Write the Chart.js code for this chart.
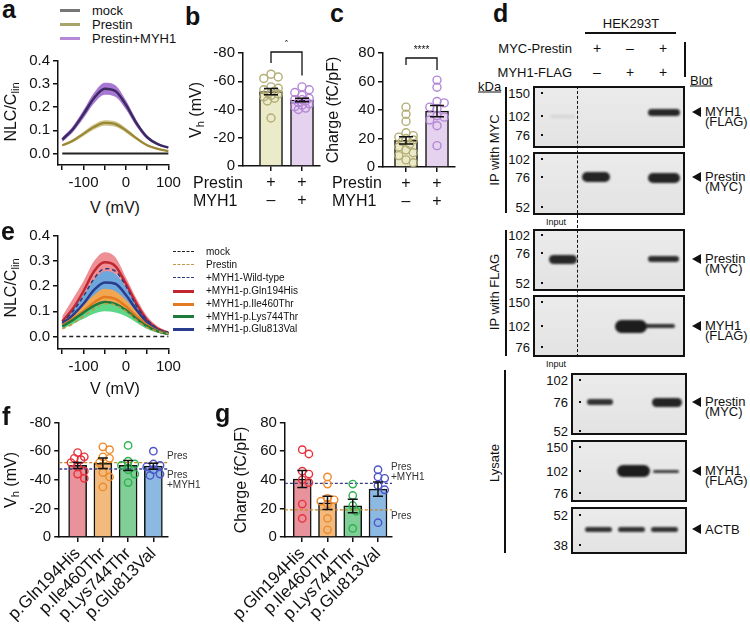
<!DOCTYPE html>
<html>
<head>
<meta charset="utf-8">
<title>MYH1 and prestin NLC</title>
<script src="https://cdn.jsdelivr.net/npm/chart.js"></script>
<style>
  body { margin: 0; background: #fff; font-family: "Liberation Sans", Arial, sans-serif; color: #111; }
  #page { position: relative; width: 750px; height: 625px; overflow: hidden; }
  canvas { position: absolute; }
  .t { position: absolute; white-space: nowrap; line-height: 1; }
  .t sub { font-size: 70%; vertical-align: -0.25em; line-height: 0; }
  .r { position: absolute; box-sizing: border-box; }
</style>
</head>
<body>
<div id="page"></div>
<script>
// ---------- data ----------
var voltage = [-150, -125, -100, -75, -50, -25, 0, 25, 50, 75, 100];

// panel a
var nlcMock = [0, 0, 0, 0, 0, 0, 0, 0, 0, 0, 0];
var nlcPrestin = [0.035, 0.055, 0.085, 0.115, 0.132, 0.127, 0.10, 0.065, 0.035, 0.02, 0.01];
var nlcPrestinSem = [0.005, 0.007, 0.009, 0.011, 0.012, 0.012, 0.010, 0.007, 0.005, 0.003, 0.002];
var nlcMyh1 = [0.06, 0.105, 0.17, 0.24, 0.28, 0.27, 0.21, 0.13, 0.07, 0.04, 0.025];
var nlcMyh1Sem = [0.010, 0.013, 0.018, 0.023, 0.026, 0.025, 0.020, 0.014, 0.008, 0.005, 0.003];

// panel e
var eWildType = [0.055, 0.10, 0.16, 0.23, 0.27, 0.26, 0.20, 0.12, 0.065, 0.03, 0.015];
var ePrestin = [0.03, 0.05, 0.08, 0.11, 0.13, 0.125, 0.10, 0.065, 0.035, 0.02, 0.01];
var eGln194His = [0.06, 0.11, 0.18, 0.26, 0.295, 0.28, 0.21, 0.13, 0.065, 0.03, 0.015];
var eGln194HisLow = [0.04, 0.08, 0.15, 0.22, 0.255, 0.25, 0.19, 0.115, 0.055, 0.025, 0.01];
var eGln194HisHigh = [0.08, 0.15, 0.22, 0.30, 0.335, 0.315, 0.235, 0.15, 0.08, 0.04, 0.02];
var eGlu813Val = [0.05, 0.085, 0.13, 0.185, 0.215, 0.21, 0.165, 0.105, 0.055, 0.025, 0.012];
var eGlu813ValLow = [0.035, 0.065, 0.10, 0.15, 0.175, 0.17, 0.135, 0.085, 0.045, 0.02, 0.008];
var eGlu813ValHigh = [0.065, 0.11, 0.165, 0.225, 0.26, 0.25, 0.195, 0.125, 0.07, 0.032, 0.016];
var eIle460Thr = [0.045, 0.07, 0.10, 0.135, 0.157, 0.15, 0.12, 0.08, 0.045, 0.022, 0.01];
var eIle460ThrLow = [0.03, 0.05, 0.075, 0.105, 0.125, 0.12, 0.095, 0.062, 0.035, 0.017, 0.007];
var eIle460ThrHigh = [0.06, 0.09, 0.125, 0.165, 0.19, 0.18, 0.145, 0.098, 0.056, 0.028, 0.013];
var eLys744Thr = [0.04, 0.065, 0.095, 0.122, 0.137, 0.13, 0.105, 0.07, 0.04, 0.02, 0.01];
var eLys744ThrLow = [0.03, 0.05, 0.07, 0.09, 0.10, 0.095, 0.08, 0.055, 0.03, 0.015, 0.007];
var eLys744ThrHigh = [0.045, 0.07, 0.10, 0.125, 0.14, 0.133, 0.108, 0.072, 0.042, 0.021, 0.01];

// panels b and c
var vhPrestinCells = [-65, -63, -62, -56, -55, -54, -53, -52, -51, -50, -49, -48, -46, -34];
var vhMyh1Cells = [-56, -54, -52, -50, -48, -47, -47, -46, -45, -44, -43, -42, -41, -40];
var vhMean = [-52.6, -46.7];
var vhSem = [2.2, 1.3];
var chargePrestinCells = [42, 37, 32, 24, 22, 21, 20, 19, 18, 16, 14, 12, 10, 8, 5, 3];
var chargeMyh1Cells = [61, 56, 46, 45, 42, 41, 36, 35, 33, 29, 15];
var chargeMean = [18.7, 39.2];
var chargeSem = [2.6, 4];

// panels f and g
var variantNames = ['p.Gln194His', 'p.Ile460Thr', 'p.Lys744Thr', 'p.Glu813Val'];
var vhVariantCells = [
  [-59, -56, -55, -54, -52, -49, -46, -44, -41],
  [-63, -61, -56, -55, -52, -45, -42, -35],
  [-64, -53, -51, -50, -47, -44, -38],
  [-60, -51, -50, -49, -47, -44, -43]
];
var vhVariantMean = [-50, -51.5, -50, -49.5];
var vhVariantSem = [2.1, 3.7, 3.5, 2.1];
var chargeVariantCells = [
  [61, 58, 46, 44, 40, 38, 23, 13],
  [42, 37, 27, 26, 25, 23, 13, 5],
  [37, 29, 22, 18, 6],
  [47, 42, 41, 36, 33, 10]
];
var chargeVariantMean = [40.5, 23.8, 21.7, 33.5];
var chargeVariantSem = [6, 4.6, 4.7, 5];
var vhRefPres = -52, vhRefPresMyh1 = -47.5;
var chargeRefPres = 19, chargeRefPresMyh1 = 37.5;

// ---------- helpers ----------
var INK = '#111';
var page = document.getElementById('page');
Chart.defaults.font.family = "'Liberation Sans', Arial, sans-serif";
Chart.defaults.color = INK;

function put(html, x, y, o) {
  o = o || {};
  var d = document.createElement('div');
  d.className = 't';
  d.innerHTML = html;
  d.style.left = x + 'px';
  d.style.top = y + 'px';
  d.style.fontSize = (o.size || 13) + 'px';
  if (o.bold) d.style.fontWeight = 'bold';
  if (o.color) d.style.color = o.color;
  if (o.underline) d.style.textDecoration = 'underline';
  d.style.transform = {
    l: 'translate(0,-50%)', r: 'translate(-100%,-50%)', c: 'translate(-50%,-50%)',
    v: 'translate(-50%,-50%) rotate(-90deg)'
  }[o.anchor || 'l'];
  page.appendChild(d);
  return d;
}
function rect(x, y, w, h, css) {
  var d = document.createElement('div');
  d.className = 'r';
  d.style.cssText = 'left:' + x + 'px;top:' + y + 'px;width:' + w + 'px;height:' + h + 'px;' + (css || '');
  page.appendChild(d);
  return d;
}
function makeCanvas(x, y, w, h) {
  var c = document.createElement('canvas');
  c.width = w; c.height = h;
  c.style.left = x + 'px'; c.style.top = y + 'px';
  c.style.width = w + 'px'; c.style.height = h + 'px';
  page.appendChild(c);
  return c.getContext('2d');
}
function axis(o) {
  var ticks = {color: INK, font: {size: o.font || 15, lineHeight: 1.15}, padding: o.pad, autoSkip: false,
               maxRotation: o.rot || 0, minRotation: o.rot || 0};
  if (o.label) ticks.callback = o.label;
  return {
    type: 'linear', min: o.min, max: o.max, reverse: !!o.reverse, offset: false,
    border: {color: INK, width: 1.5},
    grid: {drawOnChartArea: false, color: INK, lineWidth: 1.5, tickLength: 5, offset: false},
    ticks: ticks,
    afterBuildTicks: function (s) { s.ticks = o.ticks.map(function (v) { return {value: v}; }); },
    afterFit: function (s) { if (o.width) s.width = o.width; if (o.height) s.height = o.height; }
  };
}
function pts(vals) { return voltage.map(function (v, i) { return {x: v, y: vals[i]}; }); }
function shift(vals, sem, k) { return vals.map(function (v, i) { return v + k * sem[i]; }); }
function curve(vals, color, width, dash, order) {
  return {data: pts(vals), borderColor: color, borderWidth: width, borderDash: dash || [],
          pointRadius: 0, cubicInterpolationMode: 'monotone', fill: false, order: order};
}
function bandLow(vals, order) {
  return {data: pts(vals), borderWidth: 0, pointRadius: 0, cubicInterpolationMode: 'monotone', fill: false, order: order};
}
function bandHigh(vals, lowIndex, color, order) {
  return {data: pts(vals), borderWidth: 0, pointRadius: 0, cubicInterpolationMode: 'monotone',
          fill: {target: lowIndex}, backgroundColor: color, order: order};
}

// error bars, significance bracket and reference-line labels, all placed through the scales
var errorBars = {
  id: 'errorBars',
  afterDatasetsDraw: function (chart, args, o) {
    if (!o.mean) return;
    var ctx = chart.ctx, xs = chart.scales.x, ys = chart.scales.y;
    ctx.save();
    ctx.strokeStyle = INK; ctx.lineWidth = 1.5;
    o.mean.forEach(function (m, i) {
      var x = xs.getPixelForValue(i + 1);
      var a = ys.getPixelForValue(m - o.sem[i]), b = ys.getPixelForValue(m + o.sem[i]);
      ctx.beginPath();
      ctx.moveTo(x, a); ctx.lineTo(x, b);
      ctx.moveTo(x - o.cap, a); ctx.lineTo(x + o.cap, a);
      ctx.moveTo(x - o.cap, b); ctx.lineTo(x + o.cap, b);
      ctx.stroke();
    });
    ctx.restore();
  }
};
var sigBracket = {
  id: 'sigBracket',
  afterDraw: function (chart, args, o) {
    if (!o.text) return;
    var ctx = chart.ctx, xs = chart.scales.x, ys = chart.scales.y;
    var x1 = xs.getPixelForValue(1), x2 = xs.getPixelForValue(2), top = ys.getPixelForValue(o.top);
    ctx.save();
    ctx.strokeStyle = INK; ctx.lineWidth = 1.3;
    ctx.beginPath();
    ctx.moveTo(x1, ys.getPixelForValue(o.legs[0])); ctx.lineTo(x1, top);
    ctx.lineTo(x2, top); ctx.lineTo(x2, ys.getPixelForValue(o.legs[1]));
    ctx.stroke();
    ctx.fillStyle = INK; ctx.font = "10px 'Liberation Sans', Arial"; ctx.textAlign = 'center'; ctx.textBaseline = 'middle';
    ctx.fillText(o.text, (x1 + x2) / 2, ys.getPixelForValue(o.textAt));
    ctx.restore();
  }
};
var refText = {
  id: 'refText',
  afterDraw: function (chart, args, o) {
    if (!o.items) return;
    var ctx = chart.ctx, ys = chart.scales.y, x = chart.chartArea.right - 1;
    ctx.save();
    ctx.fillStyle = '#333'; ctx.font = "10px 'Liberation Sans', Arial"; ctx.textAlign = 'left'; ctx.textBaseline = 'middle';
    o.items.forEach(function (it) {
      var y = ys.getPixelForValue(it.value), n = it.lines.length;
      it.lines.forEach(function (s, i) {
        var yy = it.above ? y - 6.5 - (n - 1 - i) * 9.5 : y + 6.5 + i * 9.5;
        ctx.fillText(s, x, yy);
      });
    });
    ctx.restore();
  }
};
Chart.register(errorBars, sigBracket, refText);

function baseOptions(pad, scales, plugins) {
  var p = {legend: {display: false}, tooltip: {enabled: false}};
  for (var k in plugins) p[k] = plugins[k];
  return {responsive: false, animation: false, events: [], layout: {padding: pad}, plugins: p, scales: scales};
}

// open-circle dots spread sideways within a limited width (beeswarm layout in pixel space)
function swarmDots(chart, dsIndex, center, r, maxDx) {
  var xs = chart.scales.x, ys = chart.scales.y, placed = [];
  var ds = chart.data.datasets[dsIndex], cx = xs.getPixelForValue(center);
  var need = 1.7 * r;
  ds.data = ds.data.map(function (p) {
    var py = ys.getPixelForValue(p.y), best = 0, bestGap = -1;
    for (var k = 0; ; k++) {
      var dx = (k % 2 ? 1 : -1) * Math.ceil(k / 2) * r * 0.9;
      if (Math.abs(dx) > maxDx) break;
      var gap = placed.reduce(function (g, q) {
        return Math.min(g, Math.sqrt((q[0] - dx) * (q[0] - dx) + (q[1] - py) * (q[1] - py)));
      }, 1e9);
      if (gap >= need) { best = dx; break; }
      if (gap > bestGap) { bestGap = gap; best = dx; }
    }
    placed.push([best, py]);
    return {x: xs.getValueForPixel(cx + best), y: p.y};
  });
}

function barPanel(c) {
  var datasets = [{
    type: 'bar', data: c.mean.map(function (m, i) { return {x: i + 1, y: m}; }),
    backgroundColor: c.fills, borderColor: INK, borderWidth: 1.5, barThickness: c.barWidth, order: 5
  }];
  (c.refs || []).forEach(function (rf) {
    datasets.push({type: 'line', data: [{x: c.xmin, y: rf.value}, {x: c.xmax, y: rf.value}],
      borderColor: rf.color, borderWidth: 1.3, borderDash: [3, 2], pointRadius: 0, order: 3, clip: false});
  });
  var first = datasets.length;
  c.cells.forEach(function (cells, i) {
    datasets.push({type: 'scatter', data: cells.map(function (v) { return {x: i + 1, y: v}; }),
      pointRadius: c.r, pointBorderWidth: 1.4, pointBorderColor: c.dots[i],
      pointBackgroundColor: 'rgba(0,0,0,0)', order: 1, clip: false});
  });
  var ch = new Chart(makeCanvas(c.box[0], c.box[1], c.box[2], c.box[3]), {
    type: 'bar',
    data: {datasets: datasets},
    options: baseOptions(c.pad, {
      x: axis({min: c.xmin, max: c.xmax, ticks: c.mean.map(function (m, i) { return i + 1; }),
               label: function (v) { return c.xlabels[v - 1]; }, height: c.xH, pad: c.xPad,
               font: c.xFont || 16, rot: c.rot}),
      y: axis({min: c.ymin, max: c.ymax, reverse: c.reverse, ticks: c.yticks, width: c.yW, pad: 3})
    }, {
      errorBars: {mean: c.mean, sem: c.sem, cap: c.cap},
      sigBracket: c.bracket || {},
      refText: {items: c.refText}
    })
  });
  c.cells.forEach(function (cells, i) { swarmDots(ch, first + i, i + 1, c.r, c.spread); });
  ch.update();
  return ch;
}

// ---------- panel a ----------
var OLIVE_LINE = '#9c8734', OLIVE_BAND = '#cdc68f', PURPLE_LINE = '#3b2a62', PURPLE_BAND = '#a877d3';
new Chart(makeCanvas(0, 48, 185, 145), {
  type: 'line',
  data: {datasets: [
    bandLow(shift(nlcMyh1, nlcMyh1Sem, -1), 10),
    bandHigh(shift(nlcMyh1, nlcMyh1Sem, 1), 0, PURPLE_BAND, 10),
    bandLow(shift(nlcPrestin, nlcPrestinSem, -1), 9),
    bandHigh(shift(nlcPrestin, nlcPrestinSem, 1), 2, OLIVE_BAND, 9),
    curve(nlcMock, '#222', 2, null, 3),
    curve(nlcPrestin, OLIVE_LINE, 2.2, null, 2),
    curve(nlcMyh1, PURPLE_LINE, 2.5, null, 1)
  ]},
  options: baseOptions({left: 0, top: 13, right: 16, bottom: 0}, {
    x: axis({min: -160, max: 101, ticks: [-150, -100, -50, 0, 50, 100],
             label: function (v) { return v % 100 === 0 ? String(v) : ''; }, height: 28, pad: 4}),
    y: axis({min: -0.05, max: 0.4, ticks: [0, 0.1, 0.2, 0.3, 0.4],
             label: function (v) { return v.toFixed(1); }, width: 58, pad: 3})
  }, {})
});

// ---------- panel e ----------
var RED_LINE = '#c1272f', RED_BAND = '#ee8e95', BLUE_LINE = '#293c8e', BLUE_BAND = '#6ea7db';
var ORANGE_LINE = '#e27a22', ORANGE_BAND = '#f2a64f', GREEN_LINE = '#1f7b3b', GREEN_BAND = '#5cd888';
var WT_DASH = '#2f3a7c', PRES_DASH = '#c3974a';
new Chart(makeCanvas(0, 222, 185, 153), {
  type: 'line',
  data: {datasets: [
    bandLow(eGln194HisLow, 20), bandHigh(eGln194HisHigh, 0, RED_BAND, 20),
    bandLow(eGlu813ValLow, 19), bandHigh(eGlu813ValHigh, 2, BLUE_BAND, 19),
    bandLow(eIle460ThrLow, 18), bandHigh(eIle460ThrHigh, 4, ORANGE_BAND, 18),
    bandLow(eLys744ThrLow, 17), bandHigh(eLys744ThrHigh, 6, GREEN_BAND, 17),
    curve(eGln194His, RED_LINE, 2.5, null, 7),
    curve(eWildType, WT_DASH, 1.5, [4, 3], 6),
    curve(eGlu813Val, BLUE_LINE, 2.5, null, 5),
    curve(eIle460Thr, ORANGE_LINE, 2.5, null, 4),
    curve(eLys744Thr, GREEN_LINE, 2.5, null, 3),
    curve(ePrestin, PRES_DASH, 1.5, [4, 3], 2),
    curve(nlcMock, '#222', 1.5, [4, 3], 1)
  ]},
  options: baseOptions({left: 0, top: 14, right: 16, bottom: 0}, {
    x: axis({min: -160, max: 101, ticks: [-150, -100, -50, 0, 50, 100],
             label: function (v) { return v % 100 === 0 ? String(v) : ''; }, height: 26, pad: 4}),
    y: axis({min: -0.05, max: 0.4, ticks: [0, 0.1, 0.2, 0.3, 0.4],
             label: function (v) { return v.toFixed(1); }, width: 58, pad: 3})
  }, {})
});

// ---------- panels b, c ----------
var OLIVE_FILL = '#ecebc9', LILAC_FILL = '#e5d2ee', OLIVE_DOT = '#b3ad76', LILAC_DOT = '#b487d6';
barPanel({
  box: [200, 40, 130, 178], pad: {left: 0, top: 13, right: 10, bottom: 0}, yW: 43, xH: 52, xPad: 2,
  xmin: 0.097, xmax: 2.58, xlabels: [['+', '\u2013'], ['+', '+']],
  ymin: -80, ymax: 0, reverse: true, yticks: [-80, -60, -40, -20, 0],
  mean: vhMean, sem: vhSem, cap: 7, barWidth: 23, fills: [OLIVE_FILL, LILAC_FILL],
  cells: [vhPrestinCells, vhMyh1Cells], dots: [OLIVE_DOT, LILAC_DOT], r: 4, spread: 9,
  bracket: {top: -80.7, legs: [-73, -64], text: '*', textAt: -87}
});
barPanel({
  box: [340, 40, 125, 178], pad: {left: 0, top: 13, right: 10, bottom: 0}, yW: 43, xH: 51, xPad: 2,
  xmin: 0.258, xmax: 2.58, xlabels: [['+', '\u2013'], ['+', '+']],
  ymin: 0, ymax: 80, yticks: [0, 20, 40, 60, 80],
  mean: chargeMean, sem: chargeSem, cap: 7, barWidth: 23, fills: [OLIVE_FILL, LILAC_FILL],
  cells: [chargePrestinCells, chargeMyh1Cells], dots: [OLIVE_DOT, LILAC_DOT], r: 4, spread: 9,
  bracket: {top: 76.5, legs: [71.5, 68], text: '****', textAt: 82}
});

// ---------- panels f, g ----------
var VAR_FILLS = ['#e8939b', '#f2bb7d', '#7fcf96', '#8cb9e2'];
var VAR_DOTS = ['#e8323c', '#ef8a2b', '#2db34f', '#4c56c8'];
barPanel({
  box: [0, 410, 215, 215], pad: {left: 0, top: 12.5, right: 47, bottom: 0}, yW: 56, xH: 88, xPad: 2, rot: 45, xFont: 17,
  xmin: 0.27, xmax: 4.58, xlabels: variantNames,
  ymin: -80, ymax: 0, reverse: true, yticks: [-80, -60, -40, -20, 0],
  mean: vhVariantMean, sem: vhVariantSem, cap: 5, barWidth: 18, fills: VAR_FILLS,
  cells: vhVariantCells, dots: VAR_DOTS, r: 3.7, spread: 7,
  refs: [{value: vhRefPres, color: '#c8862a'}, {value: vhRefPresMyh1, color: '#3a3f8a'}],
  refText: [{value: vhRefPres, lines: ['Pres'], above: true}, {value: vhRefPresMyh1, lines: ['Pres', '+MYH1'], above: false}]
});
barPanel({
  box: [225, 410, 205, 215], pad: {left: 0, top: 12.5, right: 38, bottom: 0}, yW: 56, xH: 88, xPad: 2, rot: 45, xFont: 17,
  xmin: 0.312, xmax: 4.554, xlabels: variantNames,
  ymin: 0, ymax: 80, yticks: [0, 20, 40, 60, 80],
  mean: chargeVariantMean, sem: chargeVariantSem, cap: 5, barWidth: 18, fills: VAR_FILLS,
  cells: chargeVariantCells, dots: VAR_DOTS, r: 3.7, spread: 7,
  refs: [{value: chargeRefPres, color: '#c8862a'}, {value: chargeRefPresMyh1, color: '#3a3f8a'}],
  refText: [{value: chargeRefPresMyh1, lines: ['Pres', '+MYH1'], above: true}, {value: chargeRefPres, lines: ['Pres'], above: false}]
});

// ---------- text: panel letters, axis titles, legends ----------
[['a', 2, 18], ['b', 185, 25], ['c', 330, 22], ['d', 493, 22], ['e', 1, 240], ['f', 2, 425], ['g', 215, 422]]
  .forEach(function (l) { put(l[0], l[1], l[2] - 8.7, {size: 25, bold: true}); });

put('NLC/C<sub>lin</sub>', 11, 112, {size: 16, anchor: 'v'});
put('V (mV)', 115, 208, {size: 16, anchor: 'c'});
put('NLC/C<sub>lin</sub>', 11, 288, {size: 16, anchor: 'v'});
put('V (mV)', 115, 389, {size: 16, anchor: 'c'});
put('V<sub>h</sub> (mV)', 196, 110, {size: 16, anchor: 'v'});
put('Charge (fC/pF)', 333, 110, {size: 16, anchor: 'v'});
put('V<sub>h</sub> (mV)', 11, 480, {size: 16, anchor: 'v'});
put('Charge (fC/pF)', 241, 480, {size: 16, anchor: 'v'});
put('Prestin', 193, 183, {size: 16});
put('MYH1', 193, 201, {size: 16});
put('Prestin', 332, 183, {size: 16});
put('MYH1', 332, 201, {size: 16});

// legend a
[['mock', '#777777', 10], ['Prestin', '#aaa46a', 24], ['Prestin+MYH1', '#b787d8', 38]].forEach(function (e) {
  rect(60, e[2] - 1.5, 20, 3, 'background:' + e[1]);
  put(e[0], 92, e[2], {size: 13});
});
// legend e
[['mock', '#222', 'dashed', 252], ['Prestin', PRES_DASH, 'dashed', 265], ['+MYH1-Wild-type', WT_DASH, 'dashed', 278],
 ['+MYH1-p.Gln194His', RED_LINE, 'solid', 291], ['+MYH1-p.Ile460Thr', ORANGE_LINE, 'solid', 304],
 ['+MYH1-p.Lys744Thr', GREEN_LINE, 'solid', 316.5], ['+MYH1-p.Glu813Val', BLUE_LINE, 'solid', 329]].forEach(function (e) {
  var th = e[2] === 'solid' ? 3 : 1.5;
  rect(173, e[3] - th / 2, 21, th, 'border-top:' + th + 'px ' + e[2] + ' ' + e[1]);
  put(e[0], 206, e[3], {size: 10});
});

// ---------- panel d: immunoblot ----------
put('HEK293T', 631, 23, {size: 13, anchor: 'c'});
rect(585, 32, 91, 1.5, 'background:' + INK);
put('MYC-Prestin', 572, 48, {size: 13, anchor: 'r'});
put('MYH1-FLAG', 572, 72, {size: 13, anchor: 'r'});
[['+', '\u2013', '+'], ['\u2013', '+', '+']].forEach(function (row, r) {
  row.forEach(function (s, i) { put(s, 597 + i * 33, 48 + r * 24, {size: 14, anchor: 'c'}); });
});
rect(684, 42, 1.5, 35, 'background:' + INK);
put('Blot', 690, 80, {size: 13, underline: true});
put('kDa', 478, 86, {size: 13, underline: true});

function blotBox(x, y, w, h) {
  rect(x, y, w, h, 'border:2px solid ' + INK + ';background:linear-gradient(#ebebeb,#e3e3e3)');
}
function blotBand(x1, x2, y, h, alpha) {
  rect(x1, y - h / 2, x2 - x1, h, 'background:rgba(18,18,18,' + alpha + ');border-radius:' + (h / 2) + 'px;filter:blur(1px)');
}
function markers(xText, xDot, list) {
  list.forEach(function (m) {
    put(m[0], xText, m[1], {size: 13, anchor: 'r'});
    rect(xDot, m[1] - 1, 2, 2, 'background:' + INK);
  });
}
function target(y, l1, l2) {
  rect(692, y - 5, 0, 0, 'border-top:5px solid transparent;border-bottom:5px solid transparent;border-right:9px solid ' + INK);
  put(l1, 705, l2 ? y - 1 : y, {size: 13});
  if (l2) put(l2, 705, y + 9, {size: 13});
}

blotBox(533, 86, 152, 62);
blotBox(533, 152, 152, 63);
blotBox(533, 229, 152, 62);
blotBox(533, 295, 152, 62);
blotBox(571, 373, 116, 62);
blotBox(571, 440, 116, 62);
blotBox(571, 507, 116, 47);
rect(577, 86, 0, 271, 'border-left:1.5px dashed ' + INK);

markers(530, 541, [['150', 93], ['102', 116], ['76', 135]]);
markers(530, 541, [['102', 159], ['76', 177], ['52', 207]]);
markers(530, 541, [['102', 235], ['76', 253], ['52', 283]]);
markers(530, 541, [['150', 302], ['102', 326], ['76', 347]]);
markers(568, 579, [['102', 380], ['76', 402], ['52', 431]]);
markers(568, 579, [['150', 447], ['102', 471], ['76', 493]]);
markers(568, 579, [['52', 515], ['38', 545]]);

blotBand(550, 575, 116, 3, 0.08);
blotBand(648, 680, 112, 7, 0.9);
blotBand(582, 610, 177, 10, 0.92);
blotBand(648, 680, 178, 10, 0.92);
blotBand(549, 577, 259, 9, 0.9);
blotBand(648, 679, 259, 6, 0.88);
blotBand(615, 647, 326, 13, 0.95);
blotBand(645, 675, 326, 4, 0.85);
blotBand(587, 613, 402, 6, 0.85);
blotBand(652, 682, 402, 9, 0.92);
blotBand(617, 650, 471, 12, 0.95);
blotBand(653, 679, 471, 3, 0.8);
blotBand(585, 612, 529, 5, 0.85);
blotBand(618, 645, 529, 5, 0.85);
blotBand(651, 678, 529, 5, 0.85);

target(112, 'MYH1', '(FLAG)');
target(177, 'Prestin', '(MYC)');
target(259, 'Prestin', '(MYC)');
target(326, 'MYH1', '(FLAG)');
target(402, 'Prestin', '(MYC)');
target(471, 'MYH1', '(FLAG)');
target(529, 'ACTB');

put('Input', 556, 222, {size: 9, anchor: 'c'});
put('Input', 556, 364, {size: 9, anchor: 'c'});
rect(505, 87, 1.5, 126, 'background:' + INK);
rect(505, 230, 1.5, 126, 'background:' + INK);
rect(504, 370, 1.5, 183, 'background:' + INK);
put('IP with MYC', 494, 150, {size: 13, anchor: 'v'});
put('IP with FLAG', 494, 292, {size: 13, anchor: 'v'});
put('Lysate', 494, 463, {size: 13, anchor: 'v'});
</script>
</body>
</html>
